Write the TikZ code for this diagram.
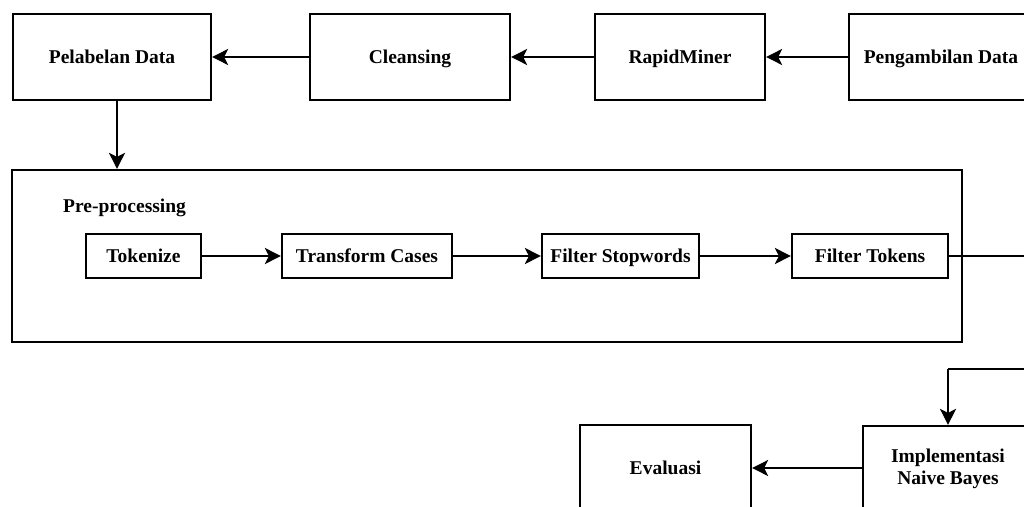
\documentclass[tikz,border=0pt]{standalone}
\usepackage{fontspec}
\setmainfont{Liberation Serif}
\usetikzlibrary{arrows.meta,calc}
\begin{document}
\begin{tikzpicture}[x=1pt,y=-1pt,
  lbl/.style={font=\fontsize{19.5}{22}\selectfont\bfseries},
  box/.style={lbl,draw,line width=2.2pt,inner sep=0pt,align=center},
  one/.style={text height=15pt,text depth=3pt},
  arr/.style={line width=2.2pt,-{Stealth[length=16pt,width=16pt,inset=4pt]}},
  ln/.style={line width=2.2pt}]
\useasboundingbox (0,0) rectangle (1024,506);
\clip (0,0) rectangle (1024,506);
\node[box,one,minimum width=198pt,minimum height=86pt] (pel) at (112,57) {Pelabelan Data};
\node[box,one,minimum width=200pt,minimum height=86pt] (cle) at (410,57) {Cleansing};
\node[box,one,minimum width=170pt,minimum height=86pt] (rap) at (680,57) {RapidMiner};
\node[box,one,minimum width=184pt,minimum height=86pt] (pen) at (941,57) {Pengambilan Data};
\node[box,minimum width=950pt,minimum height=172pt] (pre) at (487,256) {};
\node[lbl,one,anchor=west,inner sep=0pt] (prel) at (63,206) {Pre-processing};
\node[box,one,minimum width=115pt,minimum height=44pt] (tok) at (143.5,256) {Tokenize};
\node[box,one,minimum width=170pt,minimum height=44pt] (tra) at (367,256) {Transform Cases};
\node[box,one,minimum width=157pt,minimum height=44pt] (sto) at (620.5,256) {Filter Stopwords};
\node[box,one,minimum width=156pt,minimum height=44pt] (fto) at (870,256) {Filter Tokens};
\node[box,one,minimum width=171pt,minimum height=86pt] (eva) at (665.5,468) {Evaluasi};
\node[box,minimum width=170pt,minimum height=86pt] (imp) at (948,469) {Implementasi\\Naive Bayes};
\coordinate (t1) at (1040,256);
\coordinate (t2) at (1040,369);
\draw[arr] (pen) -- (rap);
\draw[arr] (rap) -- (cle);
\draw[arr] (cle) -- (pel);
\draw[arr] ([xshift=5pt]pel.south) -- ([xshift=5pt]pel.south |- pre.north);
\draw[arr] (tok) -- (tra);
\draw[arr] (tra) -- (sto);
\draw[arr] (sto) -- (fto);
\draw[ln] (fto.east) -- (t1) -- (t2) -- (t2 -| imp.north);
\draw[arr] (t2 -| imp.north) -- (imp.north);
\draw[arr] (imp.west |- eva) -- (eva);
\end{tikzpicture}
\end{document}
